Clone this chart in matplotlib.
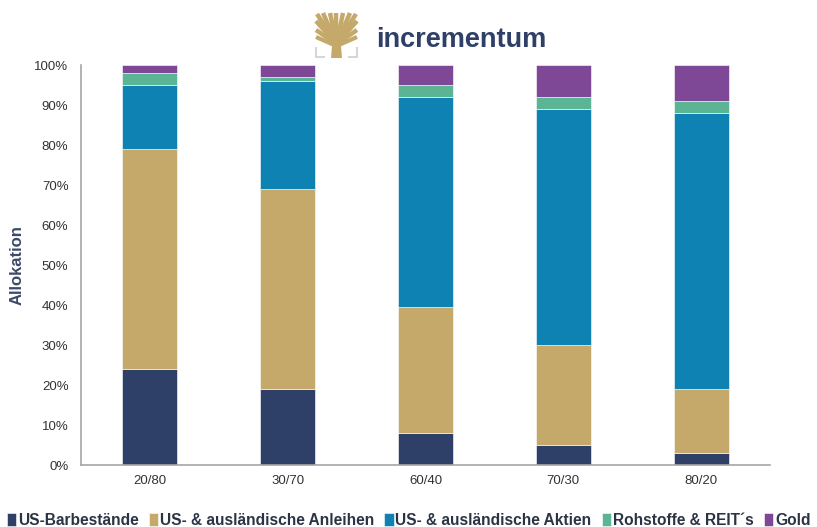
""" plot.py """

import matplotlib.pyplot as plt
from matplotlib.patches import Polygon, Rectangle

plt.rcParams['font.family'] = ['Liberation Sans', 'DejaVu Sans']

# portfolio mixes
portfolios = ['20/80', '30/70', '60/40', '70/30', '80/20']

# allocation shares in percent
cash = [24, 19, 8, 5, 3]
bonds = [55, 50, 31.5, 25, 16]
equities = [16, 27, 52.5, 59, 69]
commodities = [3, 1, 3, 3, 3]
gold = [2, 3, 5, 8, 9]

series_names = ['US-Barbestände', 'US- & ausländische Anleihen',
                'US- & ausländische Aktien', 'Rohstoffe & REIT´s', 'Gold']
series_values = [cash, bonds, equities, commodities, gold]
series_colors = ['#2E4068', '#C4A96B', '#0F82B4', '#5BB594', '#7E4896']

fig = plt.figure(figsize=(8.17, 5.27), dpi=100)
ax = fig.add_axes([81 / 817, 62 / 527, 689 / 817, 400 / 527])

x = list(range(len(portfolios)))
bottom = [0] * len(portfolios)
for name, vals, col in zip(series_names, series_values, series_colors):
    ax.bar(x, vals, width=0.4, bottom=bottom, color=col, label=name,
           edgecolor='white', linewidth=0.4)
    bottom = [b + v for b, v in zip(bottom, vals)]

ax.set_xlim(-0.5, 4.5)
ax.set_ylim(0, 100)
ax.set_yticks(range(0, 101, 10))
ax.set_yticklabels([f'{t}%' for t in range(0, 101, 10)])
ax.set_xticks(x)
ax.set_xticklabels(portfolios)
ax.tick_params(axis='y', length=0, pad=9, labelsize=9.5, labelcolor='#333333')
ax.tick_params(axis='x', length=0, pad=7, labelsize=9.5, labelcolor='#333333')
for s in ['top', 'right']:
    ax.spines[s].set_visible(False)
for s in ['left', 'bottom']:
    ax.spines[s].set_color('#A6A6A6')
    ax.spines[s].set_linewidth(1.2)
ax.set_ylabel('Allokation', fontsize=12, fontweight='bold', color='#3B4A66',
              labelpad=7)

# legend along the bottom edge
fig.legend(loc='lower center', bbox_to_anchor=(0.5, -0.014), ncol=5,
           frameon=False, handlelength=0.6, handleheight=0.9,
           handletextpad=0.12, columnspacing=0.65, borderaxespad=0,
           prop={'size': 11.2, 'weight': 'bold'}, labelcolor='#2B3445')

# logo: tree mark plus wordmark
lx = fig.add_axes([0, 0, 1, 1], facecolor='none')
lx.set_xlim(0, 817)
lx.set_ylim(527, 0)
lx.axis('off')
gold_c = '#C4A96B'
grey_c = '#D6D6D6'
# trunk
lx.add_patch(Polygon([(331, 58), (332.5, 40), (340.5, 40), (342, 58)],
                     closed=True, color=gold_c, lw=0))
# branches fanning out from the trunk
ends = [(316, 30), (316, 21), (317, 14), (323, 13), (330, 13), (336.5, 13),
        (343, 13), (350, 13), (356, 14), (357, 21), (357, 30)]
for ex, ey in ends:
    lx.plot([336.5, ex], [44, ey], color=gold_c, lw=3.2,
            solid_capstyle='butt')
lx.plot([316, 336.5], [37, 46], color=gold_c, lw=3, solid_capstyle='butt')
lx.plot([357, 336.5], [37, 46], color=gold_c, lw=3, solid_capstyle='butt')
# grey corner brackets
lx.add_patch(Rectangle((315, 47), 2.2, 11, color=grey_c, lw=0))
lx.add_patch(Rectangle((315, 55.8), 10, 2.2, color=grey_c, lw=0))
lx.add_patch(Rectangle((355.8, 47), 2.2, 11, color=grey_c, lw=0))
lx.add_patch(Rectangle((348, 55.8), 10, 2.2, color=grey_c, lw=0))
lx.text(376, 40, 'incrementum', fontsize=19.5, fontweight='bold',
        color='#2E4068', va='center', ha='left')

fig.savefig('out.png', dpi=100)
